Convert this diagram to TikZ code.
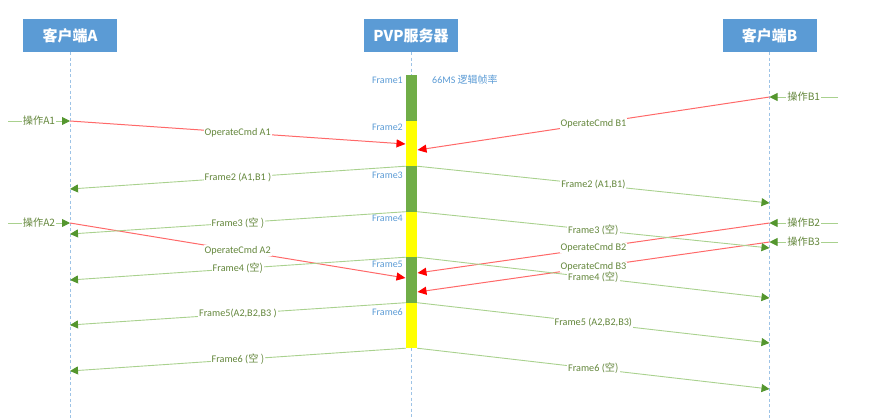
\documentclass[tikz,border=0pt]{standalone}
\usepackage{fontspec}
\setmainfont{Carlito}
\newfontfamily\cjk{Noto Sans CJK SC}
\usetikzlibrary{arrows.meta}
\definecolor{hdrblue}{RGB}{91,155,213}
\definecolor{lifeblue}{RGB}{157,195,230}
\definecolor{lgreen}{RGB}{169,209,142}
\definecolor{dgreen}{RGB}{84,150,46}
\definecolor{bargreen}{RGB}{112,173,71}
\definecolor{baryellow}{RGB}{255,255,0}
\definecolor{lred}{RGB}{255,105,105}
\definecolor{lbltext}{RGB}{100,135,60}
\definecolor{fblue}{RGB}{91,155,213}
\tikzset{
  hdr/.style={fill=hdrblue, text=white, font=\cjk\bfseries\fontsize{15}{17}\selectfont,
    minimum width=94pt, minimum height=33pt, inner sep=0pt},
  life/.style={draw=lifeblue, line width=0.8pt, dash pattern=on 3pt off 2.5pt},
  seg/.style={minimum width=11pt, minimum height=45.5pt, inner sep=0pt, draw=none},
  grn/.style={draw=lgreen, line width=0.9pt, -{Triangle[length=8pt,width=8pt,color=dgreen]}},
  redm/.style={draw=lred, line width=1pt, -{Triangle[length=9pt,width=8pt,color=red]}},
  lbl/.style={font=\fontsize{10.2}{12}\selectfont, text=lbltext, fill=white, inner sep=1pt},
  flbl/.style={font=\fontsize{10}{12}\selectfont, text=fblue, anchor=east, inner sep=0pt}
}
\begin{document}
\begin{tikzpicture}[x=1pt,y=-1pt]
\useasboundingbox (0,0) rectangle (871,418);
% headers
\node[hdr] (hA) at (70,35.5) {客户端A};
\node[hdr] (hS) at (411,35.5) {PVP服务器};
\node[hdr] (hB) at (769.5,35.5) {客户端B};
% server bar
\node[seg, fill=bargreen]  (f1) at (411.5,97.75) {};
\node[seg, fill=baryellow] (f2) at (411.5,143.25) {};
\node[seg, fill=bargreen]  (f3) at (411.5,188.75) {};
\node[seg, fill=baryellow] (f4) at (411.5,234.25) {};
\node[seg, fill=bargreen]  (f5) at (411.5,279.75) {};
\node[seg, fill=baryellow] (f6) at (411.5,325.25) {};
% lifelines
\coordinate (aEnd) at (70,418);
\coordinate (bEnd) at (769.5,418);
\coordinate (sEnd) at (411.5,418);
\draw[life] (hA.south) -- (aEnd);
\draw[life] (hB.south) -- (bEnd);
\draw[life] (hS.south -| f1.north) -- (f1.north);
\draw[life] (f6.south) -- (sEnd);
% frame labels
\node[flbl] (l1) at (403,80) {Frame1};
\node[flbl] (l2) at (403,127) {Frame2};
\node[flbl] (l3) at (403,175) {Frame3};
\node[flbl] (l4) at (403,218) {Frame4};
\node[flbl] (l5) at (403,264) {Frame5};
\node[flbl] (l6) at (403,312) {Frame6};
\node[font=\fontsize{10}{12}\selectfont, text=fblue, anchor=west, inner sep=0pt] (rate) at (432,80) {66MS \cjk{逻辑帧率}};
% client coordinates
\coordinate (oA1) at (8,121);   \coordinate (a1) at (70,121);
\coordinate (oA2) at (8,223);   \coordinate (a2) at (70,223);
\coordinate (oB1) at (838,97);  \coordinate (b1) at (769.5,97);
\coordinate (oB2) at (838,223); \coordinate (b2) at (769.5,223);
\coordinate (oB3) at (838,242); \coordinate (b3) at (769.5,242);
\coordinate (rA1) at (405.5,144); \coordinate (rB1) at (417.5,150);
\coordinate (rA2) at (405.5,278); \coordinate (rB2) at (417.5,273);
\coordinate (rB3) at (417.5,292);
\coordinate (fa2) at (70,189); \coordinate (fb2) at (769.5,203);
\coordinate (fa3) at (70,234); \coordinate (fb3) at (769.5,248);
\coordinate (fa4) at (70,280); \coordinate (fb4) at (769.5,298);
\coordinate (fa5) at (70,325); \coordinate (fb5) at (769.5,343);
\coordinate (fa6) at (70,371); \coordinate (fb6) at (769.5,389);
% commands
\draw[redm] (a1) -- node[lbl] {OperateCmd A1} (rA1);
\draw[redm] (b1) -- node[lbl] {OperateCmd B1} (rB1);
\draw[redm] (a2) -- node[lbl] {OperateCmd A2} (rA2);
\draw[redm] (b2) -- node[lbl] {OperateCmd B2} (rB2);
\draw[redm] (b3) -- node[lbl] {OperateCmd B3} (rB3);
% operations
\draw[grn] (oA1) -- node[lbl] {\cjk{操作}A1} (a1);
\draw[grn] (oA2) -- node[lbl] {\cjk{操作}A2} (a2);
\draw[grn] (oB1) -- node[lbl] {\cjk{操作}B1} (b1);
\draw[grn] (oB2) -- node[lbl] {\cjk{操作}B2} (b2);
\draw[grn] (oB3) -- node[lbl] {\cjk{操作}B3} (b3);
% frame broadcasts
\draw[grn] (f2.south west) -- node[lbl] {Frame2 (A1,B1 )} (fa2);
\draw[grn] (f2.south east) -- node[lbl] {Frame2 (A1,B1)} (fb2);
\draw[grn] (f3.south west) -- node[lbl] {Frame3 (\cjk{空} )} (fa3);
\draw[grn] (f3.south east) -- node[lbl] {Frame3 (\cjk{空})} (fb3);
\draw[grn] (f4.south west) -- node[lbl] {Frame4 (\cjk{空})} (fa4);
\draw[grn] (f4.south east) -- node[lbl] {Frame4 (\cjk{空})} (fb4);
\draw[grn] (f5.south west) -- node[lbl] {Frame5(A2,B2,B3 )} (fa5);
\draw[grn] (f5.south east) -- node[lbl] {Frame5 (A2,B2,B3)} (fb5);
\draw[grn] (f6.south west) -- node[lbl] {Frame6 (\cjk{空} )} (fa6);
\draw[grn] (f6.south east) -- node[lbl] {Frame6 (\cjk{空})} (fb6);
\end{tikzpicture}
\end{document}
